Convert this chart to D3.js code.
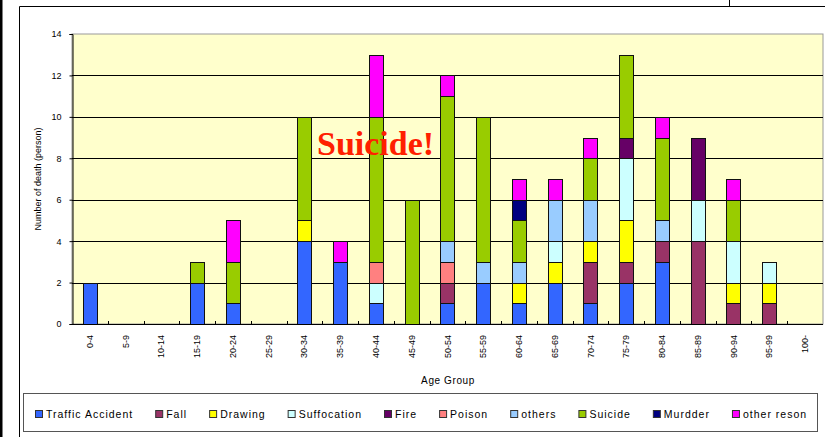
<!DOCTYPE html>
<html>
<head>
<meta charset="utf-8">
<script src="https://cdn.jsdelivr.net/npm/d3@7"></script>
<style>
  body { margin: 0; background: #fff; }
  svg { display: block; font-family: "Liberation Sans", Arial, sans-serif; }
</style>
</head>
<body>
<div id="chart"></div>
<script>
// age groups on the x axis
const ageGroups = ['0-4', '5-9', '10-14', '15-19', '20-24', '25-29', '30-34', '35-39', '40-44', '45-49',
  '50-54', '55-59', '60-64', '65-69', '70-74', '75-79', '80-84', '85-89', '90-94', '95-99', '100-'];

// causes, bottom to top of each stack
const causes = ['Traffic Accident', 'Fall', 'Drawing', 'Suffocation', 'Fire', 'Poison', 'others', 'Suicide', 'Murdder', 'other reson'];
const causeColors = ['#3366FF', '#993366', '#FFFF00', '#CCFFFF', '#660066', '#FF8080', '#99CCFF', '#99CC00', '#000080', '#FF00FF'];

// counts per age group, one array per cause
const trafficAccident = [2, 0, 0, 2, 1, 0, 4, 3, 1, 0, 1, 2, 1, 2, 1, 2, 3, 0, 0, 0, 0];
const fall            = [0, 0, 0, 0, 0, 0, 0, 0, 0, 0, 1, 0, 0, 0, 2, 1, 1, 4, 1, 1, 0];
const drawing         = [0, 0, 0, 0, 0, 0, 1, 0, 0, 0, 0, 0, 1, 1, 1, 2, 0, 0, 1, 1, 0];
const suffocation     = [0, 0, 0, 0, 0, 0, 0, 0, 1, 0, 0, 0, 0, 1, 0, 3, 0, 2, 2, 1, 0];
const fire            = [0, 0, 0, 0, 0, 0, 0, 0, 0, 0, 0, 0, 0, 0, 0, 1, 0, 3, 0, 0, 0];
const poison          = [0, 0, 0, 0, 0, 0, 0, 0, 1, 0, 1, 0, 0, 0, 0, 0, 0, 0, 0, 0, 0];
const others          = [0, 0, 0, 0, 0, 0, 0, 0, 0, 0, 1, 1, 1, 2, 2, 0, 1, 0, 0, 0, 0];
const suicide         = [0, 0, 0, 1, 2, 0, 5, 0, 7, 6, 7, 7, 2, 0, 2, 4, 4, 0, 2, 0, 0];
const murdder         = [0, 0, 0, 0, 0, 0, 0, 0, 0, 0, 0, 0, 1, 0, 0, 0, 0, 0, 0, 0, 0];
const otherReson      = [0, 0, 0, 0, 2, 0, 0, 1, 3, 0, 1, 0, 1, 1, 1, 0, 1, 0, 1, 0, 0];

const yTicks = [0, 2, 4, 6, 8, 10, 12, 14];

const seriesValues = [trafficAccident, fall, drawing, suffocation, fire, poison, others, suicide, murdder, otherReson];

const width = 825;
const height = 437;
const plot = { left: 72, top: 34, right: 823, bottom: 324 };

const rows = ageGroups.map((g, i) => {
  const r = { group: g };
  causes.forEach((c, k) => { r[c] = seriesValues[k][i]; });
  return r;
});

const svg = d3.select('#chart')
  .append('svg')
  .attr('width', width)
  .attr('height', height);

// outer frame bits
svg.append('rect').attr('x', 0).attr('y', 0).attr('width', 2.5).attr('height', height).attr('fill', '#000');
svg.append('path')
  .attr('d', `M19.5,${height} V6.5 H${width + 2}`)
  .attr('fill', 'none').attr('stroke', '#000').attr('stroke-width', 1);
svg.append('line')
  .attr('x1', 729.5).attr('x2', 729.5).attr('y1', 0).attr('y2', 6.5)
  .attr('stroke', '#000');

const x = d3.scaleBand()
  .domain(ageGroups)
  .range([plot.left, plot.right])
  .paddingInner(0.6)
  .paddingOuter(0.3);

const y = d3.scaleLinear()
  .domain([0, 14])
  .range([plot.bottom, plot.top]);

const color = d3.scaleOrdinal().domain(causes).range(causeColors);

// plot background
svg.append('rect')
  .attr('x', plot.left).attr('y', plot.top)
  .attr('width', plot.right - plot.left).attr('height', plot.bottom - plot.top)
  .attr('fill', '#FFFFCC')
  .attr('stroke', '#999').attr('stroke-width', 1);

// gridlines
svg.append('g')
  .selectAll('line')
  .data(yTicks.filter(t => t > 0 && t < 14))
  .enter()
  .append('line')
  .attr('x1', plot.left).attr('x2', plot.right)
  .attr('y1', d => Math.round(y(d)) + 0.5).attr('y2', d => Math.round(y(d)) + 0.5)
  .attr('stroke', '#000').attr('stroke-width', 1);

// stacked bars
const stacked = d3.stack().keys(causes)(rows);

svg.append('g')
  .selectAll('g')
  .data(stacked)
  .enter()
  .append('g')
  .attr('fill', d => color(d.key))
  .selectAll('rect')
  .data(d => d.filter(s => s[1] - s[0] > 0))
  .enter()
  .append('rect')
  .attr('x', d => Math.round(x(d.data.group)) + 0.5)
  .attr('y', d => Math.round(y(d[1])) + 0.5)
  .attr('width', Math.round(x.bandwidth()))
  .attr('height', d => Math.round(y(d[0])) - Math.round(y(d[1])))
  .attr('stroke', '#111').attr('stroke-width', 1);

// y axis
const yAxis = d3.axisLeft(y)
  .tickValues(yTicks)
  .tickSize(3)
  .tickPadding(8);

svg.append('g')
  .attr('transform', `translate(${plot.left + 0.5},0)`)
  .call(yAxis)
  .call(g => g.select('.domain').attr('stroke', '#000'))
  .call(g => g.selectAll('text').attr('font-size', 9).attr('fill', '#000')
    .attr('font-family', '"Liberation Sans", Arial, sans-serif'));

// x axis line and ticks between bands
svg.append('line')
  .attr('x1', plot.left).attr('x2', plot.right)
  .attr('y1', plot.bottom + 0.5).attr('y2', plot.bottom + 0.5)
  .attr('stroke', '#000');

const step = (plot.right - plot.left) / ageGroups.length;
svg.append('g')
  .selectAll('line')
  .data(ageGroups.slice(1))
  .enter()
  .append('line')
  .attr('x1', (d, i) => Math.round(plot.left + step * (i + 1)) + 0.5)
  .attr('x2', (d, i) => Math.round(plot.left + step * (i + 1)) + 0.5)
  .attr('y1', plot.bottom - 3).attr('y2', plot.bottom)
  .attr('stroke', '#000');

svg.append('g')
  .selectAll('text')
  .data(ageGroups)
  .enter()
  .append('text')
  .attr('transform', d => `translate(${x(d) + x.bandwidth() / 2 + 3},335) rotate(-90)`)
  .attr('text-anchor', 'end')
  .attr('font-size', 9)
  .text(d => d);

// axis titles
svg.append('text')
  .attr('transform', `translate(41,${(plot.top + plot.bottom) / 2}) rotate(-90)`)
  .attr('text-anchor', 'middle')
  .attr('font-size', 9)
  .text('Number of death (person)');

svg.append('text')
  .attr('x', 448).attr('y', 384)
  .attr('text-anchor', 'middle')
  .attr('font-size', 10)
  .attr('letter-spacing', 0.6)
  .text('Age Group');

// annotation
svg.append('text')
  .attr('x', 317).attr('y', 155)
  .attr('font-family', '"Liberation Serif", "Times New Roman", serif')
  .attr('font-weight', 'bold')
  .attr('font-size', 34)
  .attr('fill', '#FF2000')
  .text('Suicide!');

// legend
svg.append('rect')
  .attr('x', 23.5).attr('y', 393.5)
  .attr('width', 794).attr('height', 38)
  .attr('fill', '#fff')
  .attr('stroke', '#555').attr('stroke-width', 1);

const legend = svg.append('g');
let lx = 35;
causes.forEach(c => {
  const item = legend.append('g').attr('transform', `translate(${lx},0)`);
  item.append('rect')
    .attr('x', 0.5).attr('y', 410.5)
    .attr('width', 7).attr('height', 7)
    .attr('fill', color(c))
    .attr('stroke', '#333');
  const t = item.append('text')
    .attr('x', 11).attr('y', 417.5)
    .attr('font-size', 10.5)
    .attr('letter-spacing', 1)
    .text(c);
  lx += 11 + t.node().getComputedTextLength() + 22;
});
</script>
</body>
</html>
